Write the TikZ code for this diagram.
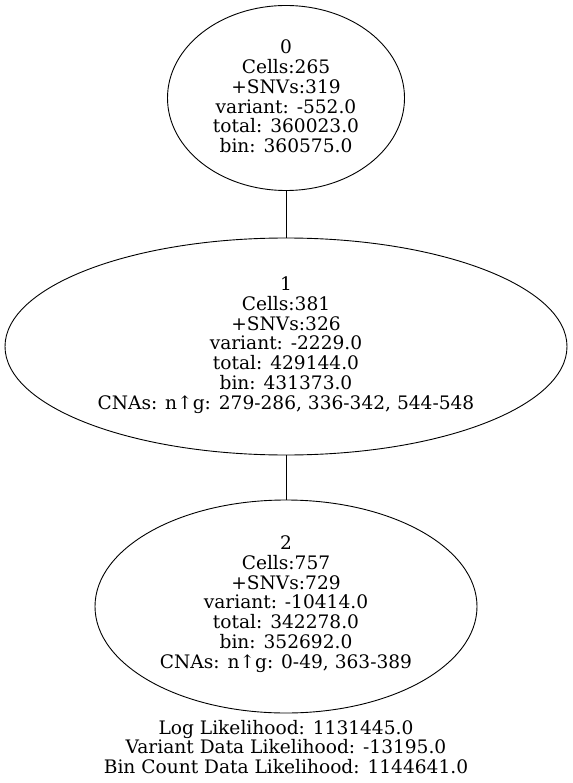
\documentclass[tikz,border=0pt]{standalone}
\usepackage{fontspec}
\setmainfont{DejaVu Serif}
\usetikzlibrary{positioning,shapes.geometric}

\tikzset{
  oval/.style={draw=black,ellipse,inner sep=0pt,line width=0.9pt},
  lbl/.style={align=center,inner sep=0pt,font=\fontsize{18.6}{19.8}\selectfont}
}

\begin{document}
\begin{tikzpicture}[x=1pt,y=-1pt]
	\useasboundingbox (0,0) rectangle (572,783);
	
	% tree nodes
	\node[oval,minimum width=237,minimum height=185] (n0) at (286,98) {};
	\node[oval,minimum width=562,minimum height=217] (n1) at (286,346.5) {};
	\node[oval,minimum width=382,minimum height=213] (n2) at (286,606.5) {};
	
	% node texts
	\node[lbl] (t0) at (286,96.5) {0\\Cells:265\\+SNVs:319\\variant: -552.0\\total: 360023.0\\bin: 360575.0};
	\node[lbl] (t1) at (286,345) {1\\Cells:381\\+SNVs:326\\variant: -2229.0\\total: 429144.0\\bin: 431373.0\\CNAs: n↑g: 279-286, 336-342, 544-548};
	\node[lbl] (t2) at (286,604) {2\\Cells:757\\+SNVs:729\\variant: -10414.0\\total: 342278.0\\bin: 352692.0\\CNAs: n↑g: 0-49, 363-389};
	
	% edges
	\draw[line width=0.9pt] (n0) -- (n1);
	\draw[line width=0.9pt] (n1) -- (n2);
	
	% likelihoods
	\node[lbl] (ll) at (286,747) {Log Likelihood: 1131445.0\\Variant Data Likelihood: -13195.0\\Bin Count Data Likelihood: 1144641.0};
\end{tikzpicture}
\end{document}
